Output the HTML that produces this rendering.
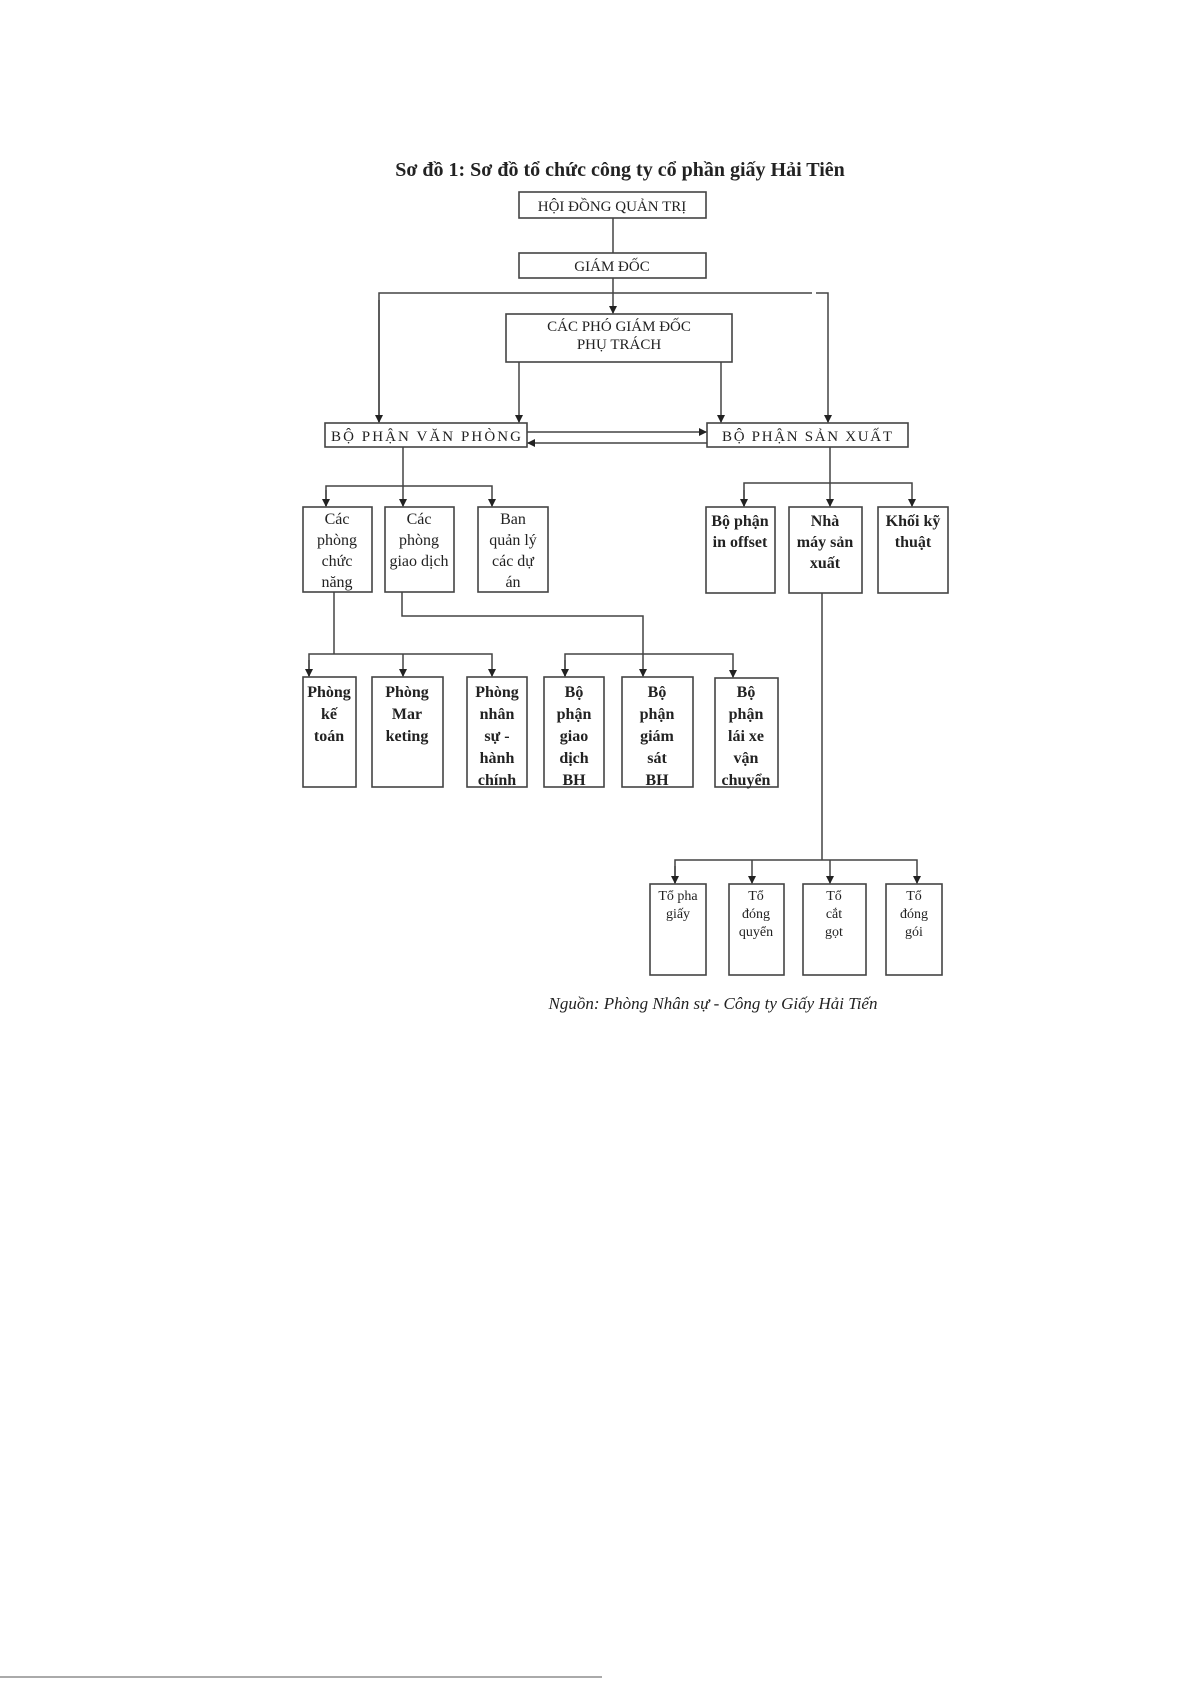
<!DOCTYPE html>
<html><head><meta charset="utf-8"><style>
html,body{margin:0;padding:0;background:#fff;}
svg{display:block;}
text{font-family:"Liberation Serif",serif;fill:#222;}
</style></head><body>
<svg width="1191" height="1685" viewBox="0 0 1191 1685" xmlns="http://www.w3.org/2000/svg">
<defs>
<marker id="a" markerWidth="8" markerHeight="8" refX="7" refY="4" orient="auto" markerUnits="userSpaceOnUse">
<path d="M0,0 L8,4 L0,8 z" fill="#222"/></marker>
</defs>
<text x="620" y="176" font-size="20" font-weight="bold" text-anchor="middle">Sơ đồ 1: Sơ đồ tổ chức công ty cổ phần giấy Hải Tiên</text>
<g fill="none" stroke="#444" stroke-width="1.6">
<rect x="519" y="192" width="187" height="26"/>
<rect x="519" y="253" width="187" height="25"/>
<rect x="506" y="314" width="226" height="48"/>
<rect x="325" y="423" width="202" height="24"/>
<rect x="707" y="423" width="201" height="24"/>
<rect x="303" y="507" width="69" height="85"/>
<rect x="385" y="507" width="69" height="85"/>
<rect x="478" y="507" width="70" height="85"/>
<rect x="706" y="507" width="69" height="86"/>
<rect x="789" y="507" width="73" height="86"/>
<rect x="878" y="507" width="70" height="86"/>
<rect x="303" y="677" width="53" height="110"/>
<rect x="372" y="677" width="71" height="110"/>
<rect x="467" y="677" width="60" height="110"/>
<rect x="544" y="677" width="60" height="110"/>
<rect x="622" y="677" width="71" height="110"/>
<rect x="715" y="678" width="63" height="109"/>
<rect x="650" y="884" width="56" height="91"/>
<rect x="729" y="884" width="55" height="91"/>
<rect x="803" y="884" width="63" height="91"/>
<rect x="886" y="884" width="56" height="91"/>
</g>
<g fill="none" stroke="#444" stroke-width="1.5">
<line x1="613" y1="218" x2="613" y2="253"/>
<line x1="613" y1="278" x2="613" y2="313" marker-end="url(#a)"/>
<polyline points="379,422 379,293 812,293"/>
<polyline points="816,293 828,293 828,422" marker-end="url(#a)"/>
<line x1="379" y1="300" x2="379" y2="422" marker-end="url(#a)"/>
<line x1="519" y1="362" x2="519" y2="422" marker-end="url(#a)"/>
<line x1="721" y1="362" x2="721" y2="422" marker-end="url(#a)"/>
<line x1="527" y1="432" x2="706" y2="432" marker-end="url(#a)"/>
<line x1="707" y1="443" x2="528" y2="443" marker-end="url(#a)"/>
<line x1="403" y1="447" x2="403" y2="486"/>
<polyline points="326,506 326,486 492,486 492,506" marker-end="url(#a)"/>
<line x1="326" y1="490" x2="326" y2="506" marker-end="url(#a)"/>
<line x1="403" y1="486" x2="403" y2="506" marker-end="url(#a)"/>
<line x1="830" y1="447" x2="830" y2="483"/>
<polyline points="744,506 744,483 912,483 912,506" marker-end="url(#a)"/>
<line x1="744" y1="490" x2="744" y2="506" marker-end="url(#a)"/>
<line x1="830" y1="483" x2="830" y2="506" marker-end="url(#a)"/>
<line x1="334" y1="592" x2="334" y2="654"/>
<polyline points="309,676 309,654 492,654 492,676" marker-end="url(#a)"/>
<line x1="309" y1="660" x2="309" y2="676" marker-end="url(#a)"/>
<line x1="403" y1="654" x2="403" y2="676" marker-end="url(#a)"/>
<polyline points="402,592 402,616 643,616 643,676" marker-end="url(#a)"/>
<polyline points="565,676 565,654 733,654 733,677" marker-end="url(#a)"/>
<line x1="565" y1="660" x2="565" y2="676" marker-end="url(#a)"/>
<line x1="822" y1="593" x2="822" y2="860"/>
<polyline points="675,883 675,860 917,860 917,883" marker-end="url(#a)"/>
<line x1="675" y1="866" x2="675" y2="883" marker-end="url(#a)"/>
<line x1="752" y1="860" x2="752" y2="883" marker-end="url(#a)"/>
<line x1="830" y1="860" x2="830" y2="883" marker-end="url(#a)"/>
</g>
<g font-size="15" text-anchor="middle">
<text x="612" y="211">HỘI ĐỒNG QUẢN TRỊ</text>
<text x="612" y="271">GIÁM ĐỐC</text>
<text x="619" y="331">CÁC PHÓ GIÁM ĐỐC</text>
<text x="619" y="349">PHỤ TRÁCH</text>
<text x="426" y="441" textLength="190" lengthAdjust="spacing">BỘ PHẬN VĂN PHÒNG</text>
<text x="807" y="441" textLength="170" lengthAdjust="spacing">BỘ PHẬN SẢN XUẤT</text>
</g>
<g font-size="16" text-anchor="middle">
<text x="337" y="524">Các</text><text x="337" y="545">phòng</text><text x="337" y="566">chức</text><text x="337" y="587">năng</text>
<text x="419" y="524">Các</text><text x="419" y="545">phòng</text><text x="419" y="566">giao dịch</text>
<text x="513" y="524">Ban</text><text x="513" y="545">quản lý</text><text x="513" y="566">các dự</text><text x="513" y="587">án</text>
</g>
<g font-size="16" font-weight="bold" text-anchor="middle">
<text x="740" y="526">Bộ phận</text><text x="740" y="547">in offset</text>
<text x="825" y="526">Nhà</text><text x="825" y="547">máy sản</text><text x="825" y="568">xuất</text>
<text x="913" y="526">Khối kỹ</text><text x="913" y="547">thuật</text>
<text x="329" y="697">Phòng</text><text x="329" y="719">kế</text><text x="329" y="741">toán</text>
<text x="407" y="697">Phòng</text><text x="407" y="719">Mar</text><text x="407" y="741">keting</text>
<text x="497" y="697">Phòng</text><text x="497" y="719">nhân</text><text x="497" y="741">sự -</text><text x="497" y="763">hành</text><text x="497" y="785">chính</text>
<text x="574" y="697">Bộ</text><text x="574" y="719">phận</text><text x="574" y="741">giao</text><text x="574" y="763">dịch</text><text x="574" y="785">BH</text>
<text x="657" y="697">Bộ</text><text x="657" y="719">phận</text><text x="657" y="741">giám</text><text x="657" y="763">sát</text><text x="657" y="785">BH</text>
<text x="746" y="697">Bộ</text><text x="746" y="719">phận</text><text x="746" y="741">lái xe</text><text x="746" y="763">vận</text><text x="746" y="785">chuyển</text>
</g>
<g font-size="14" text-anchor="middle" fill="#333">
<text x="678" y="900">Tổ pha</text><text x="678" y="918">giấy</text>
<text x="756" y="900">Tổ</text><text x="756" y="918">đóng</text><text x="756" y="936">quyển</text>
<text x="834" y="900">Tổ</text><text x="834" y="918">cắt</text><text x="834" y="936">gọt</text>
<text x="914" y="900">Tổ</text><text x="914" y="918">đóng</text><text x="914" y="936">gói</text>
</g>
<text x="713" y="1009" font-size="17" font-style="italic" text-anchor="middle" fill="#444">Nguồn: Phòng Nhân sự - Công ty Giấy Hải Tiến</text>
<line x1="0" y1="1677" x2="602" y2="1677" stroke="#555" stroke-width="1"/>
</svg>
</body></html>
